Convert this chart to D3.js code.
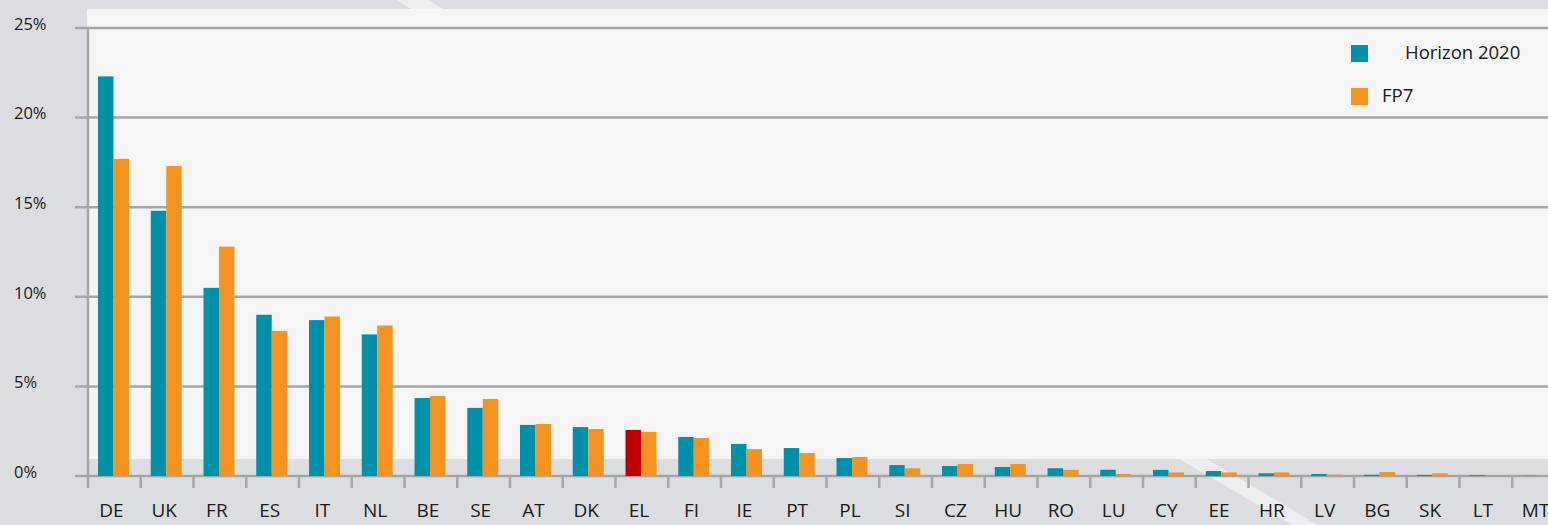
<!DOCTYPE html>
<html>
<head>
<meta charset="utf-8">
<script src="https://cdn.jsdelivr.net/npm/d3@7"></script>
<style>
  html, body { margin: 0; padding: 0; background: #dcdde0; }
  text { font-family: "Open Sans", sans-serif; fill: #1a1a1a; }
</style>
</head>
<body>
<div id="chart"></div>
<script>
// Share of participation by country (%)
var countries = ["DE", "UK", "FR", "ES", "IT", "NL", "BE", "SE", "AT", "DK", "EL", "FI", "IE", "PT",
  "PL", "SI", "CZ", "HU", "RO", "LU", "CY", "EE", "HR", "LV", "BG", "SK", "LT", "MT"];
var horizon = [22.3, 14.8, 10.5, 9.0, 8.7, 7.9, 4.35, 3.8, 2.85, 2.73, 2.57, 2.18, 1.79, 1.56,
  1.0, 0.61, 0.56, 0.5, 0.43, 0.35, 0.34, 0.28, 0.15, 0.11, 0.07, 0.06, 0.04, 0.01];
var fp7 = [17.7, 17.3, 12.8, 8.1, 8.9, 8.4, 4.46, 4.3, 2.9, 2.62, 2.46, 2.12, 1.5, 1.28,
  1.06, 0.43, 0.67, 0.67, 0.34, 0.11, 0.2, 0.2, 0.2, 0.07, 0.22, 0.15, 0.04, 0.01];
var yTicks = [0, 5, 10, 15, 20, 25];
var seriesNames = ["Horizon 2020", "FP7"];

var svgWidth = 1548;
var svgHeight = 525;

var colTeal = "#0091a9";
var colOrange = "#f39422";
var colRed = "#c00000";
var colGrid = "#a6a6a6";

var svg = d3.select("#chart")
  .append("svg")
  .attr("width", svgWidth)
  .attr("height", svgHeight);

// background + white diagonal stripe
svg.append("rect")
  .attr("width", svgWidth)
  .attr("height", svgHeight)
  .attr("fill", "#dcdde0");

svg.append("polygon")
  .attr("points", "396,0 428,0 1318,525 1292,525")
  .attr("fill", "#ffffff")
  .attr("opacity", 0.5);

// lighter plot panel
svg.append("rect")
  .attr("x", 87)
  .attr("y", 9)
  .attr("width", svgWidth - 87)
  .attr("height", 450)
  .attr("fill", "#f5f5f5");

// scales
var x0 = d3.scaleBand()
  .domain(countries)
  .range([88, 88 + 52.75 * countries.length])
  .padding(0);

var x1 = d3.scaleBand()
  .domain(seriesNames)
  .range([10, 41])
  .padding(0);

var y = d3.scaleLinear()
  .domain([0, 25])
  .range([476, 28]);

// gridlines
svg.append("g")
  .selectAll("line")
  .data(yTicks)
  .enter()
  .append("line")
  .attr("x1", 75)
  .attr("x2", svgWidth)
  .attr("y1", d => y(d))
  .attr("y2", d => y(d))
  .attr("stroke", colGrid)
  .attr("stroke-width", 2.5);

// y tick labels
svg.append("g")
  .selectAll("text")
  .data(yTicks)
  .enter()
  .append("text")
  .attr("x", 14)
  .attr("y", d => y(d) - 4)
  .attr("dy", "0.35em")
  .attr("font-size", "16.5px")
  .text(d => d + "%");

// y axis line
svg.append("line")
  .attr("x1", 88)
  .attr("x2", 88)
  .attr("y1", y(25))
  .attr("y2", 488)
  .attr("stroke", colGrid)
  .attr("stroke-width", 2.5);

// bars
var groups = svg.append("g")
  .selectAll("g")
  .data(countries)
  .enter()
  .append("g")
  .attr("transform", d => `translate(${x0(d)},0)`);

groups.append("rect")
  .attr("x", x1("Horizon 2020"))
  .attr("width", x1.bandwidth())
  .attr("y", (d, i) => y(horizon[i]))
  .attr("height", (d, i) => y(0) - y(horizon[i]))
  .attr("fill", d => d === "EL" ? colRed : colTeal);

groups.append("rect")
  .attr("x", x1("FP7"))
  .attr("width", x1.bandwidth())
  .attr("y", (d, i) => y(fp7[i]))
  .attr("height", (d, i) => y(0) - y(fp7[i]))
  .attr("fill", colOrange);

// x axis: ticks between categories
var bottomAxis = d3.axisBottom(x0).tickSize(0).tickPadding(28);
var xAxis = svg.append("g")
  .attr("transform", `translate(0, ${y(0)})`)
  .call(bottomAxis);
xAxis.select(".domain").remove();
xAxis.selectAll("text")
  .attr("font-family", "Open Sans")
  .attr("font-size", "19px")
  .attr("fill", "#1a1a1a")
  .attr("dx", "-3");

svg.append("g")
  .selectAll("line")
  .data(countries)
  .enter()
  .append("line")
  .attr("x1", d => x0(d) + x0.bandwidth())
  .attr("x2", d => x0(d) + x0.bandwidth())
  .attr("y1", y(0))
  .attr("y2", 488)
  .attr("stroke", colGrid)
  .attr("stroke-width", 2.5);

// legend
var legend = [
  { name: seriesNames[0], color: colTeal, tx: 1405, y: 45 },
  { name: seriesNames[1], color: colOrange, tx: 1382, y: 88 }
];
legend.forEach(function(l) {
  svg.append("rect")
    .attr("x", 1351)
    .attr("y", l.y)
    .attr("width", 17)
    .attr("height", 17)
    .attr("fill", l.color);
  svg.append("text")
    .attr("x", l.tx)
    .attr("y", l.y + 14)
    .attr("font-size", "18.5px")
    .text(l.name);
});
</script>
</body>
</html>
